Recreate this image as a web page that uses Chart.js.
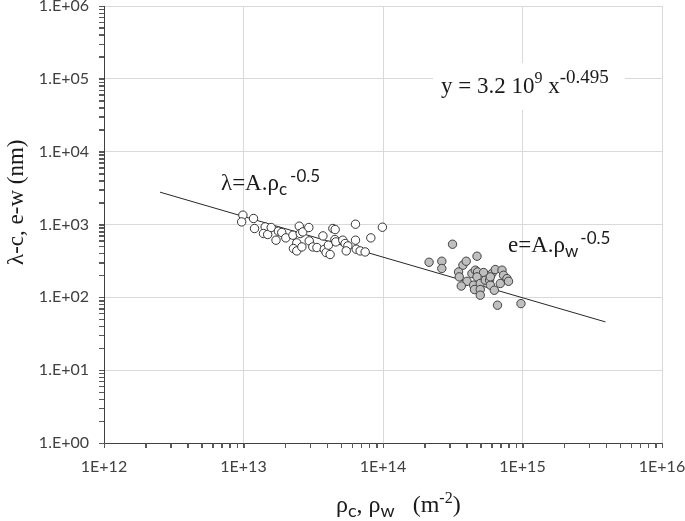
<!DOCTYPE html>
<html>
<head>
<meta charset="utf-8">
<script src="https://cdn.jsdelivr.net/npm/chart.js@4/dist/chart.umd.min.js"></script>
<style>
  body { margin: 0; background: #fff; }
  canvas { display: block; }
</style>
</head>
<body>
<canvas id="chart" width="685" height="521"></canvas>
<script>
// cell spacing (open circles): rho_c vs lambda
var rhoC = [9.9e12, 9.7e12, 1.18e13, 1.2e13, 1.43e13, 1.39e13, 1.49e13, 1.58e13, 1.71e13, 1.78e13,
            1.88e13, 2.01e13, 2.26e13, 2.51e13, 2.55e13, 2.66e13, 2.94e13, 2.41e13, 2.28e13, 2.41e13,
            2.62e13, 2.96e13, 3.14e13, 3.36e13, 3.71e13, 3.79e13, 3.91e13, 4.18e13, 4.06e13, 4.37e13,
            4.54e13, 4.52e13, 4.59e13, 5.15e13, 5.35e13, 5.6e13, 5.45e13, 6.35e13, 6.35e13, 6.43e13,
            6.86e13, 7.45e13, 8.18e13, 9.9e13];
var lambdaC = [1343, 1086, 1209, 881, 927, 752, 729, 909, 609, 809,
               777, 655, 713, 948, 752, 791, 909, 559, 468, 434,
               492, 595, 492, 483, 697, 454, 412, 387, 520, 881,
               853, 622, 577, 609, 548, 508, 434, 1009, 609, 458,
               434, 420, 655, 918];

// wall spacing (grey circles): rho_w vs e
var rhoW = [3.15e14, 2.64e14, 2.64e14, 3.74e14, 3.95e14, 4.72e14, 3.48e14, 3.52e14, 4.0e14, 3.64e14,
            4.34e14, 4.59e14, 4.76e14, 5.26e14, 4.72e14, 4.46e14, 4.53e14, 4.98e14, 4.98e14, 4.98e14,
            5.41e14, 5.81e14, 5.88e14, 6.04e14, 6.38e14, 5.88e14, 6.28e14, 7.13e14, 7.31e14, 6.93e14,
            7.74e14, 7.94e14, 6.62e14, 9.75e14, 2.14e14];
var eW = [536, 313, 249, 276, 313, 367, 223, 191, 166, 143,
          212, 236, 223, 219, 191, 147, 128, 155, 128, 107,
          172, 172, 147, 212, 241, 191, 125, 236, 201, 155,
          181, 166, 78, 82, 303];

// fitted power law, drawn between its two end points
var fitX = [2.52e12, 3.93e15];
var fitY = [2780, 46];

function toPoints(xs, ys) {
    var pts = [];
    for (var i = 0; i < xs.length; i++) {
        pts.push({ x: xs[i], y: ys[i] });
    }
    return pts;
}

function isDecade(v) {
    var l = Math.log10(v);
    return Math.abs(l - Math.round(l)) < 1e-6;
}

function pad2(n) {
    return (n < 10 ? '0' : '') + n;
}

// 1..9 x 10^n values between the scale ends
function logValues(scale) {
    var lo = Math.round(Math.log10(scale.min));
    var hi = Math.round(Math.log10(scale.max));
    var vals = [];
    for (var e = lo; e < hi; e++) {
        for (var s = 1; s < 10; s++) {
            vals.push(s * Math.pow(10, e));
        }
    }
    vals.push(Math.pow(10, hi));
    return vals;
}

function logTicks(scale) {
    scale.ticks = logValues(scale).map(function (v) {
        return { value: v, major: isDecade(v) };
    });
}

// draws a row of text pieces (for sub/superscripts)
function drawRuns(ctx, x, y, runs) {
    ctx.textAlign = 'left';
    ctx.textBaseline = 'alphabetic';
    for (var i = 0; i < runs.length; i++) {
        var r = runs[i];
        ctx.font = r.font;
        x += r.gap || 0;
        ctx.fillText(r.t, x, y + (r.dy || 0));
        x += ctx.measureText(r.t).width;
    }
}

var SERIF = '"Liberation Serif", "Times New Roman", serif';
var SANS = 'Lato, "Liberation Sans", sans-serif';

// outside tick marks, major and minor
var tickPlugin = {
    id: 'tickmarks',
    afterDraw: function (chart) {
        var ctx = chart.ctx;
        var a = chart.chartArea;
        var xs = chart.scales.x, ys = chart.scales.y;
        ctx.save();
        ctx.strokeStyle = '#595959';
        ctx.lineWidth = 1;
        ctx.beginPath();
        logValues(xs).forEach(function (v) {
            var px = Math.round(xs.getPixelForValue(v)) + 0.5;
            ctx.moveTo(px, a.bottom);
            ctx.lineTo(px, a.bottom + 5);
        });
        logValues(ys).forEach(function (v) {
            var py = Math.round(ys.getPixelForValue(v)) + 0.5;
            ctx.moveTo(a.left - 5, py);
            ctx.lineTo(a.left, py);
        });
        ctx.stroke();
        ctx.restore();
    }
};

var textPlugin = {
    id: 'texts',
    afterDraw: function (chart) {
        var ctx = chart.ctx;
        ctx.save();

        // equation box
        ctx.fillStyle = '#ffffff';
        ctx.fillRect(433, 63, 192, 47);
        ctx.fillStyle = '#1a1a1a';
        drawRuns(ctx, 441, 93, [
            { t: 'y = 3.2 10', font: '23px ' + SERIF },
            { t: '9', font: '16px ' + SERIF, dy: -10 },
            { t: ' x', font: '23px ' + SERIF },
            { t: '-0.495', font: '19px ' + SERIF, dy: -10 }
        ]);

        drawRuns(ctx, 221, 190, [
            { t: 'λ=A.ρ', font: '23px ' + SERIF },
            { t: 'c', font: '17px ' + SANS, dy: 5 },
            { t: '-0.5', font: '17px ' + SANS, dy: -8, gap: 3 }
        ]);

        drawRuns(ctx, 508, 252, [
            { t: 'e=A.ρ', font: '23px ' + SERIF },
            { t: 'w', font: '17px ' + SANS, dy: 5 },
            { t: '-0.5', font: '17px ' + SANS, dy: -8, gap: 2 }
        ]);

        // x axis title
        drawRuns(ctx, 336, 512, [
            { t: 'ρ', font: '24px ' + SERIF },
            { t: 'c', font: '18px ' + SANS, dy: 5 },
            { t: ', ρ', font: '24px ' + SERIF },
            { t: 'w', font: '18px ' + SANS, dy: 5 },
            { t: '   (m', font: '24px ' + SERIF },
            { t: '-2', font: '16px ' + SERIF, dy: -9 },
            { t: ')', font: '24px ' + SERIF }
        ]);

        // y axis title
        ctx.translate(23, 265);
        ctx.rotate(-Math.PI / 2);
        drawRuns(ctx, 0, 0, [
            { t: 'λ-c, e-w (nm)', font: '23px ' + SERIF }
        ]);

        ctx.restore();
    }
};

var gridColor = function (c) {
    if (!c.tick) return 'rgba(0,0,0,0)';
    return isDecade(c.tick.value) ? '#d9d9d9' : 'rgba(0,0,0,0)';
};

var ctx = document.getElementById('chart').getContext('2d');
var chart = new Chart(ctx, {
    type: 'scatter',
    data: {
        datasets: [{
            data: toPoints(rhoC, lambdaC),
            backgroundColor: '#ffffff',
            borderColor: '#333333',
            borderWidth: 1,
            pointRadius: 4.2,
            order: 1
        }, {
            data: toPoints(rhoW, eW),
            backgroundColor: '#bfbfbf',
            borderColor: '#404040',
            borderWidth: 1,
            pointRadius: 4.2,
            order: 2
        }, {
            type: 'line',
            data: toPoints(fitX, fitY),
            borderColor: '#262626',
            borderWidth: 1,
            pointRadius: 0,
            fill: false,
            order: 3
        }]
    },
    options: {
        responsive: false,
        animation: false,
        layout: { padding: { top: 6, right: 23, left: 0, bottom: 0 } },
        plugins: {
            legend: { display: false },
            tooltip: { enabled: false }
        },
        scales: {
            x: {
                type: 'logarithmic',
                position: 'bottom',
                min: 1e12,
                max: 1e16,
                border: { color: '#404040', width: 1 },
                grid: { color: gridColor, tickColor: '#595959', tickLength: 5 },
                ticks: {
                    autoSkip: false,
                    maxRotation: 0,
                    padding: 9,
                    color: '#404040',
                    font: { family: SANS, size: 16 },
                    callback: function (v) {
                        return isDecade(v) ? '1E+' + Math.round(Math.log10(v)) : '';
                    }
                },
                afterBuildTicks: logTicks,
                afterFit: function (scale) {
                    scale.height = 78;
                    scale.paddingLeft = 0;
                    scale.paddingRight = 0;
                }
            },
            y: {
                type: 'logarithmic',
                min: 1,
                max: 1e6,
                border: { color: '#404040', width: 1 },
                grid: { color: gridColor, tickColor: '#595959', tickLength: 5 },
                ticks: {
                    autoSkip: false,
                    padding: 10,
                    color: '#404040',
                    font: { family: SANS, size: 16 },
                    callback: function (v) {
                        return isDecade(v) ? '1.E+' + pad2(Math.round(Math.log10(v))) : '';
                    }
                },
                afterBuildTicks: logTicks,
                afterFit: function (scale) {
                    scale.width = 104;
                    scale.paddingTop = 0;
                    scale.paddingBottom = 0;
                }
            }
        }
    },
    plugins: [tickPlugin, textPlugin]
});
</script>
</body>
</html>
